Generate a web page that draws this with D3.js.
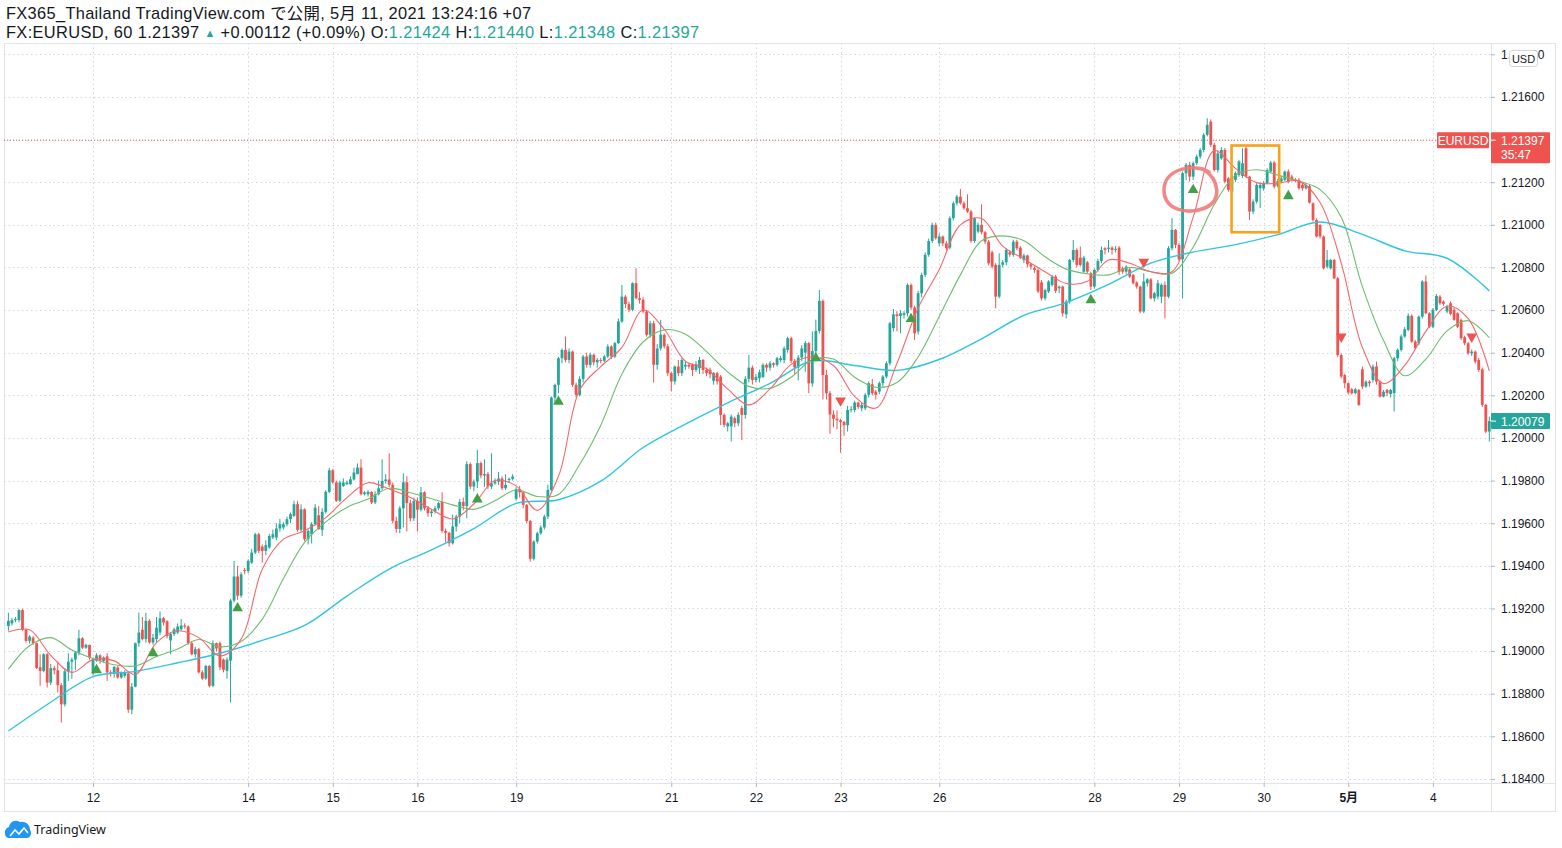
<!DOCTYPE html>
<html><head><meta charset="utf-8">
<script src="https://cdn.jsdelivr.net/npm/d3@7"></script>
<style>body{margin:0;background:#fff;}svg{display:block;font-family:"Liberation Sans",Arial,sans-serif;}</style>
</head><body><svg id="c" width="1562" height="848"></svg>
<script>
// ---- data: EURUSD 60-minute candles ----
const open=[1.19118,1.19130,1.19145,1.19145,1.19192,1.19100,1.19048,1.19063,1.19037,1.18924,
1.18907,1.18985,1.18852,1.18920,1.18910,1.18840,1.18750,1.18905,1.18950,1.18960,
1.18993,1.19060,1.19016,1.19029,1.18895,1.18955,1.18980,1.18954,1.18975,1.18900,
1.18893,1.18923,1.18876,1.18884,1.18895,1.18725,1.18833,1.19037,1.19100,1.19056,
1.19142,1.19040,1.19056,1.19087,1.19154,1.19140,1.19050,1.19080,1.19087,1.19102,
1.19120,1.19115,1.19037,1.18985,1.19009,1.18900,1.18871,1.18930,1.18837,1.19037,
1.19037,1.18960,1.18907,1.18955,1.19237,1.19350,1.19260,1.19380,1.19376,1.19415,
1.19462,1.19548,1.19490,1.19470,1.19486,1.19533,1.19533,1.19575,1.19580,1.19595,
1.19619,1.19634,1.19689,1.19569,1.19665,1.19525,1.19548,1.19595,1.19637,1.19569,
1.19653,1.19747,1.19848,1.19791,1.19705,1.19775,1.19783,1.19783,1.19805,1.19830,
1.19861,1.19736,1.19736,1.19747,1.19697,
1.19736,1.19764,1.19798,1.19805,1.19780,
1.19611,1.19573,1.19670,1.19792,1.19694,1.19623,1.19705,1.19663,1.19745,1.19670,
1.19647,1.19655,1.19670,1.19700,1.19564,1.19555,1.19506,1.19584,1.19631,1.19700,
1.19680,1.19877,1.19772,1.19795,1.19882,1.19824,1.19831,1.19772,1.19787,1.19795,
1.19810,1.19764,1.19803,1.19808,1.19714,1.19760,1.19745,1.19686,1.19610,1.19433,
1.19514,1.19553,1.19580,1.19631,1.19756,1.20189,1.20249,1.20374,1.20413,1.20366,
1.20405,1.20249,1.20202,1.20277,1.20382,1.20343,1.20390,1.20355,1.20366,1.20362,
1.20382,1.20429,1.20382,1.20445,1.20546,1.20663,1.20628,1.20601,1.20726,1.20656,
1.20648,1.20593,1.20484,1.20538,1.20343,1.20420,1.20484,1.20430,1.20304,1.20265,
1.20335,1.20304,1.20335,1.20343,1.20343,1.20319,1.20327,1.20366,1.20319,1.20320,
1.20268,1.20304,1.20288,1.20108,1.20054,1.20054,1.20093,1.20069,
1.20140,1.20108,
1.20277,1.20330,1.20272,1.20280,1.20286,1.20343,1.20330,1.20350,1.20343,1.20365,
1.20365,1.20413,1.20468,1.20362,1.20330,1.20377,1.20400,1.20445,1.20256,1.20408,
1.20502,1.20643,1.20295,1.20210,1.20110,1.20090,1.20083,1.20075,1.20060,1.20131,
1.20131,1.20166,1.20139,1.20139,1.20202,1.20252,1.20217,1.20217,1.20257,1.20288,
1.20350,1.20515,1.20580,1.20572,1.20577,1.20585,1.20718,1.20612,1.20499,1.20679,
1.20765,1.20859,1.20924,1.21000,1.20913,1.20945,1.20913,1.20893,1.21031,1.21101,
1.21132,1.21101,1.21078,1.21062,1.20924,1.20968,1.21000,1.20965,1.20921,1.20871,
1.20812,1.20663,1.20812,1.20824,1.20871,1.20859,1.20921,1.20893,1.20835,1.20856,
1.20815,1.20796,1.20788,1.20730,1.20655,1.20687,1.20718,1.20757,1.20702,1.20710,
1.20580,1.20640,1.20835,1.20882,1.20846,1.20780,1.20824,1.20773,1.20710,1.20788,
1.20830,1.20890,1.20887,1.20893,1.20882,1.20893,
1.20796,1.20780,1.20791,1.20765,
1.20729,1.20710,1.20593,1.20726,1.20744,1.20655,1.20663,1.20663,1.20718,1.20663,
1.20890,1.20976,1.20906,1.20838,1.21242,1.21281,1.21226,1.21289,1.21320,1.21351,
1.21422,1.21484,1.21375,1.21257,1.21312,1.21351,1.21218,1.21156,1.21211,1.21234,
1.21229,1.21359,1.21226,1.21062,1.21109,1.21171,1.21171,1.21195,1.21250,1.21292,
1.21182,1.21203,1.21211,1.21250,1.21226,1.21211,1.21211,1.21187,1.21171,1.21182,
1.21101,1.21023,1.20999,1.20945,1.20804,1.20796,1.20835,1.20749,1.20389,1.20295,
1.20257,1.20228,1.20210,1.20225,1.20322,1.20241,1.20264,1.20272,1.20335,1.20264,
1.20194,1.20225,1.20206,1.20210,1.20374,1.20413,1.20476,1.20507,1.20573,1.20452,
1.20444,1.20569,1.20734,1.20585,1.20522,1.20601,1.20663,1.20640,1.20593,1.20632,
1.20601,1.20585,1.20554,1.20472,1.20444,1.20397,1.20405,1.20366,1.20322,1.20155,
1.20030];
const high=[1.19180,1.19155,1.19160,1.19196,1.19198,1.19105,1.19075,1.19070,1.19040,1.18985,
1.18990,1.18990,1.18940,1.18930,1.18950,1.18850,1.18920,1.18990,1.18970,1.19000,
1.19100,1.19065,1.19035,1.19030,1.18970,1.18990,1.18985,1.18975,1.18990,1.18910,
1.18930,1.18930,1.18905,1.18910,1.18900,1.18850,1.19040,1.19180,1.19160,1.19180,
1.19150,1.19080,1.19160,1.19185,1.19160,1.19145,1.19090,1.19110,1.19130,1.19150,
1.19130,1.19120,1.19045,1.19020,1.19015,1.18910,1.18935,1.18935,1.19050,1.19040,
1.19045,1.18965,1.18970,1.19245,1.19423,1.19400,1.19370,1.19390,1.19430,1.19480,
1.19555,1.19555,1.19500,1.19520,1.19550,1.19570,1.19600,1.19620,1.19605,1.19630,
1.19650,1.19705,1.19705,1.19688,1.19670,1.19570,1.19605,1.19690,1.19680,1.19670,
1.19755,1.19860,1.19855,1.19800,1.19800,1.19810,1.19800,1.19820,1.19860,1.19880,
1.19900,1.19750,1.19755,1.19750,1.19750,
1.19800,1.19900,1.19830,1.19928,1.19790,
1.19630,1.19680,1.19834,1.19820,1.19710,1.19720,1.19720,1.19770,1.19750,1.19680,
1.19665,1.19680,1.19700,1.19745,1.19575,1.19560,1.19640,1.19640,1.19714,1.19720,
1.19890,1.19885,1.19805,1.19944,1.19890,1.19900,1.19840,1.19928,1.19810,1.19840,
1.19820,1.19830,1.19815,1.19830,1.19770,1.19775,1.19750,1.19690,1.19615,1.19520,
1.19560,1.19590,1.19640,1.19780,1.20195,1.20255,1.20380,1.20420,1.20476,1.20420,
1.20410,1.20260,1.20290,1.20390,1.20400,1.20400,1.20395,1.20375,1.20375,1.20390,
1.20440,1.20435,1.20450,1.20560,1.20718,1.20670,1.20640,1.20730,1.20796,1.20684,
1.20660,1.20600,1.20550,1.20550,1.20440,1.20554,1.20490,1.20440,1.20310,1.20340,
1.20366,1.20375,1.20360,1.20350,1.20350,1.20360,1.20380,1.20370,1.20330,1.20330,
1.20310,1.20310,1.20295,1.20115,1.20075,1.20110,1.20100,1.20120,
1.20150,1.20290,
1.20390,1.20340,1.20300,1.20320,1.20350,1.20350,1.20360,1.20355,1.20380,1.20385,
1.20430,1.20475,1.20475,1.20370,1.20390,1.20435,1.20455,1.20450,1.20500,1.20555,
1.20694,1.20650,1.20320,1.20220,1.20130,1.20130,1.20090,1.20080,1.20150,1.20150,
1.20175,1.20170,1.20165,1.20210,1.20265,1.20277,1.20225,1.20265,1.20295,1.20360,
1.20545,1.20605,1.20595,1.20600,1.20595,1.20725,1.20725,1.20620,1.20690,1.20775,
1.20870,1.20935,1.21010,1.21010,1.20960,1.20950,1.20925,1.21040,1.21110,1.21140,
1.21168,1.21110,1.21143,1.21070,1.21035,1.21010,1.21096,1.20970,1.20930,1.20880,
1.20820,1.20866,1.20835,1.20890,1.20880,1.20930,1.20930,1.20900,1.20865,1.20860,
1.20820,1.20805,1.20795,1.20740,1.20700,1.20740,1.20765,1.20765,1.20715,1.20715,
1.20650,1.20840,1.20929,1.20890,1.20898,1.20855,1.20830,1.20780,1.20795,1.20840,
1.20898,1.20895,1.20929,1.20900,1.20900,1.20900,
1.20804,1.20810,1.20800,1.20770,
1.20735,1.20715,1.20773,1.20750,1.20750,1.20685,1.20741,1.20725,1.20734,1.20900,
1.21031,1.20980,1.20915,1.21250,1.21290,1.21295,1.21297,1.21330,1.21360,1.21430,
1.21500,1.21495,1.21385,1.21350,1.21365,1.21360,1.21225,1.21235,1.21250,1.21305,
1.21359,1.21365,1.21230,1.21120,1.21195,1.21195,1.21205,1.21265,1.21300,1.21300,
1.21215,1.21230,1.21255,1.21260,1.21235,1.21220,1.21220,1.21195,1.21195,1.21190,
1.21105,1.21030,1.21005,1.20950,1.20882,1.20840,1.20840,1.20755,1.20395,1.20300,
1.20260,1.20235,1.20235,1.20230,1.20335,1.20270,1.20270,1.20345,1.20358,1.20270,
1.20225,1.20230,1.20230,1.20380,1.20420,1.20485,1.20520,1.20585,1.20580,1.20460,
1.20575,1.20740,1.20762,1.20590,1.20610,1.20675,1.20670,1.20645,1.20625,1.20640,
1.20610,1.20590,1.20560,1.20480,1.20450,1.20415,1.20410,1.20375,1.20330,1.20160,
1.20100];
const low=[1.19095,1.19120,1.19135,1.19135,1.19095,1.19040,1.19035,1.19030,1.18915,1.18837,
1.18900,1.18829,1.18840,1.18890,1.18805,1.18665,1.18740,1.18860,1.18870,1.18910,
1.18980,1.19010,1.19010,1.18960,1.18885,1.18950,1.18940,1.18945,1.18860,1.18880,
1.18875,1.18870,1.18870,1.18875,1.18710,1.18704,1.18830,1.19020,1.19050,1.19040,
1.19035,1.19030,1.19040,1.19075,1.19120,1.19060,1.18985,1.19070,1.19080,1.19095,
1.19105,1.19030,1.18980,1.18970,1.18895,1.18865,1.18865,1.18830,1.18830,1.19000,
1.18910,1.18900,1.18870,1.18758,1.19228,1.19240,1.19250,1.19360,1.19365,1.19410,
1.19455,1.19460,1.19415,1.19450,1.19480,1.19525,1.19520,1.19560,1.19570,1.19585,
1.19600,1.19630,1.19560,1.19560,1.19515,1.19500,1.19505,1.19590,1.19570,1.19540,
1.19645,1.19740,1.19785,1.19700,1.19700,1.19770,1.19780,1.19780,1.19800,1.19830,
1.19730,1.19730,1.19725,1.19690,1.19690,
1.19730,1.19755,1.19785,1.19770,1.19600,
1.19555,1.19553,1.19580,1.19561,1.19608,1.19610,1.19561,1.19655,1.19660,1.19630,
1.19630,1.19645,1.19660,1.19555,1.19510,1.19490,1.19500,1.19560,1.19600,1.19660,
1.19623,1.19760,1.19750,1.19765,1.19810,1.19770,1.19760,1.19760,1.19780,1.19780,
1.19755,1.19755,1.19790,1.19800,1.19705,1.19720,1.19670,1.19600,1.19420,1.19425,
1.19505,1.19545,1.19570,1.19620,1.19750,1.20160,1.20210,1.20350,1.20355,1.20350,
1.20240,1.20190,1.20195,1.20260,1.20330,1.20330,1.20340,1.20330,1.20350,1.20355,
1.20375,1.20370,1.20375,1.20440,1.20540,1.20610,1.20590,1.20595,1.20650,1.20630,
1.20585,1.20475,1.20470,1.20260,1.20320,1.20410,1.20420,1.20290,1.20218,1.20250,
1.20290,1.20290,1.20320,1.20325,1.20290,1.20310,1.20300,1.20300,1.20290,1.20280,
1.20250,1.20250,1.20060,1.20050,1.20030,1.19983,1.20050,1.20055,
1.19990,1.20090,
1.20260,1.20250,1.20260,1.20260,1.20280,1.20310,1.20315,1.20330,1.20335,1.20355,
1.20350,1.20400,1.20350,1.20300,1.20270,1.20360,1.20310,1.20210,1.20240,1.20390,
1.20490,1.20180,1.20180,1.20020,1.20050,1.20040,1.19931,1.20010,1.20030,1.20120,
1.20120,1.20135,1.20125,1.20130,1.20190,1.20200,1.20180,1.20205,1.20240,1.20280,
1.20340,1.20500,1.20500,1.20491,1.20560,1.20570,1.20600,1.20460,1.20485,1.20660,
1.20755,1.20850,1.20915,1.20930,1.20900,1.20900,1.20880,1.20885,1.21020,1.21090,
1.21095,1.21070,1.21055,1.20915,1.20915,1.20960,1.20955,1.20910,1.20810,1.20795,
1.20608,1.20655,1.20800,1.20810,1.20850,1.20850,1.20880,1.20840,1.20820,1.20800,
1.20790,1.20775,1.20680,1.20645,1.20645,1.20680,1.20710,1.20680,1.20680,1.20569,
1.20561,1.20630,1.20825,1.20800,1.20805,1.20775,1.20770,1.20694,1.20700,1.20780,
1.20820,1.20860,1.20870,1.20860,1.20870,1.20765,
1.20770,1.20770,1.20750,1.20720,
1.20700,1.20585,1.20585,1.20710,1.20650,1.20640,1.20650,1.20632,1.20561,1.20655,
1.20880,1.20890,1.20830,1.20655,1.21210,1.21203,1.21210,1.21280,1.21310,1.21340,
1.21415,1.21365,1.21250,1.21245,1.21305,1.21195,1.21155,1.21150,1.21200,1.21225,
1.21220,1.21220,1.21023,1.21050,1.21100,1.21078,1.21160,1.21190,1.21245,1.21170,
1.21175,1.21195,1.21205,1.21195,1.21205,1.21200,1.21165,1.21160,1.21165,1.21100,
1.21015,1.20940,1.20935,1.20790,1.20795,1.20790,1.20745,1.20380,1.20280,1.20233,
1.20205,1.20203,1.20205,1.20150,1.20230,1.20235,1.20240,1.20260,1.20250,1.20190,
1.20190,1.20195,1.20190,1.20124,1.20360,1.20405,1.20470,1.20500,1.20445,1.20415,
1.20435,1.20560,1.20580,1.20515,1.20515,1.20595,1.20625,1.20620,1.20585,1.20575,
1.20550,1.20515,1.20460,1.20435,1.20390,1.20385,1.20350,1.20310,1.20145,1.20022,
1.19983];
const close=[1.19142,1.19145,1.19150,1.19192,1.19100,1.19048,1.19068,1.19037,1.18921,1.18907,
1.18985,1.18852,1.18920,1.18910,1.18840,1.18750,1.18905,1.18950,1.18960,1.18993,
1.19060,1.19016,1.19029,1.18970,1.18960,1.18980,1.18955,1.18970,1.18900,1.18895,
1.18926,1.18876,1.18898,1.18899,1.18725,1.18833,1.19037,1.19087,1.19056,1.19142,
1.19040,1.19063,1.19110,1.19154,1.19134,1.19070,1.19080,1.19102,1.19115,1.19120,
1.19115,1.19037,1.18985,1.19009,1.18900,1.18871,1.18930,1.18837,1.19037,1.19012,
1.18924,1.18912,1.18960,1.19237,1.19350,1.19260,1.19360,1.19376,1.19423,1.19462,
1.19548,1.19470,1.19470,1.19497,1.19540,1.19548,1.19575,1.19595,1.19595,1.19619,
1.19642,1.19689,1.19569,1.19665,1.19525,1.19564,1.19595,1.19673,1.19572,1.19653,
1.19747,1.19848,1.19791,1.19705,1.19791,1.19791,1.19791,1.19806,1.19838,1.19861,
1.19736,1.19744,1.19747,1.19697,1.19736,
1.19764,1.19798,1.19805,1.19780,1.19611,
1.19573,1.19670,1.19792,1.19694,1.19623,1.19705,1.19663,1.19745,1.19670,1.19647,
1.19655,1.19670,1.19694,1.19564,1.19555,1.19506,1.19584,1.19631,1.19700,1.19680,
1.19877,1.19772,1.19795,1.19882,1.19824,1.19831,1.19772,1.19787,1.19795,1.19810,
1.19764,1.19780,1.19808,1.19819,1.19760,1.19745,1.19686,1.19610,1.19433,1.19514,
1.19553,1.19580,1.19631,1.19756,1.20189,1.20249,1.20374,1.20413,1.20366,1.20405,
1.20249,1.20202,1.20277,1.20382,1.20343,1.20390,1.20355,1.20366,1.20362,1.20382,
1.20429,1.20382,1.20445,1.20546,1.20663,1.20628,1.20601,1.20726,1.20656,1.20648,
1.20593,1.20484,1.20538,1.20343,1.20420,1.20484,1.20430,1.20304,1.20265,1.20335,
1.20304,1.20366,1.20343,1.20335,1.20319,1.20346,1.20366,1.20319,1.20304,1.20299,
1.20304,1.20265,1.20108,1.20061,1.20069,1.20100,1.20069,1.20108,
1.20108,1.20277,
1.20330,1.20272,1.20286,1.20308,1.20343,1.20330,1.20350,1.20343,1.20374,1.20374,
1.20420,1.20468,1.20362,1.20330,1.20377,1.20420,1.20445,1.20256,1.20408,1.20502,
1.20643,1.20295,1.20210,1.20110,1.20090,1.20083,1.20075,1.20060,1.20131,1.20135,
1.20166,1.20145,1.20155,1.20202,1.20257,1.20210,1.20202,1.20257,1.20288,1.20350,
1.20538,1.20580,1.20572,1.20585,1.20585,1.20718,1.20612,1.20491,1.20679,1.20765,
1.20859,1.20924,1.21000,1.20937,1.20945,1.20913,1.20890,1.21031,1.21101,1.21132,
1.21101,1.21078,1.21062,1.20924,1.21031,1.21000,1.20965,1.20921,1.20819,1.20804,
1.20663,1.20812,1.20824,1.20882,1.20860,1.20921,1.20890,1.20846,1.20856,1.20815,
1.20804,1.20788,1.20687,1.20655,1.20694,1.20734,1.20757,1.20690,1.20710,1.20585,
1.20640,1.20835,1.20882,1.20812,1.20812,1.20846,1.20780,1.20710,1.20788,1.20830,
1.20882,1.20882,1.20893,1.20882,1.20887,1.20780,
1.20780,1.20804,1.20757,1.20726,
1.20710,1.20593,1.20734,1.20744,1.20655,1.20679,1.20726,1.20718,1.20663,1.20890,
1.20976,1.20906,1.20838,1.21242,1.21281,1.21226,1.21289,1.21320,1.21351,1.21422,
1.21469,1.21375,1.21257,1.21335,1.21351,1.21203,1.21164,1.21226,1.21242,1.21297,
1.21289,1.21226,1.21062,1.21109,1.21187,1.21187,1.21195,1.21257,1.21292,1.21179,
1.21205,1.21218,1.21250,1.21203,1.21211,1.21208,1.21171,1.21171,1.21187,1.21104,
1.21023,1.20945,1.20945,1.20796,1.20835,1.20835,1.20749,1.20389,1.20288,1.20257,
1.20213,1.20210,1.20228,1.20155,1.20241,1.20264,1.20257,1.20335,1.20264,1.20194,
1.20217,1.20210,1.20225,1.20374,1.20413,1.20476,1.20510,1.20573,1.20452,1.20421,
1.20569,1.20734,1.20585,1.20522,1.20601,1.20666,1.20632,1.20629,1.20616,1.20582,
1.20554,1.20522,1.20468,1.20444,1.20397,1.20405,1.20358,1.20319,1.20155,1.20030,
1.20079];
// moving averages, sampled every 6 bars (fast, mid) and every 12 bars (slow)
const maFast=[1.19090,1.19100,1.18980,1.18900,1.18960,1.18954,1.18890,1.19040,1.19095,1.19063,
1.18977,1.19056,1.19384,1.19525,1.19564,1.19626,1.19720,1.19790,1.19760,1.19720,
1.19665,1.19620,1.19690,1.19800,1.19775,1.19660,1.19820,1.20225,1.20335,1.20425,
1.20600,1.20510,1.20360,1.20325,1.20230,1.20155,1.20230,1.20345,1.20380,1.20340,
1.20195,1.20140,1.20350,1.20610,1.20790,1.21000,1.21030,1.20900,1.20840,1.20780,
1.20725,1.20735,1.20835,1.20820,1.20780,1.20780,1.21035,1.21348,1.21265,1.21198,
1.21195,1.21205,1.21105,1.20820,1.20425,1.20255,1.20340,1.20500,1.20618,1.20560,
1.20315];
const maMid=[1.18915,1.19025,1.19063,1.19005,1.18965,1.18936,1.18930,1.18974,1.19010,1.19054,
1.19020,1.19045,1.19150,1.19340,1.19510,1.19606,1.19674,1.19713,1.19764,1.19743,
1.19715,1.19686,1.19665,1.19705,1.19757,1.19725,1.19735,1.19875,1.20060,1.20300,
1.20450,1.20507,1.20487,1.20405,1.20310,1.20242,1.20233,1.20285,1.20367,1.20370,
1.20285,1.20238,1.20260,1.20380,1.20570,1.20765,1.20925,1.20948,1.20925,1.20850,
1.20792,1.20770,1.20765,1.20800,1.20780,1.20773,1.20895,1.21095,1.21232,1.21258,
1.21233,1.21205,1.21165,1.21035,1.20710,1.20457,1.20292,1.20370,1.20502,1.20550,
1.20470];
const maSlow=[1.18625,1.18760,1.18880,1.18905,1.18945,1.18990,1.19050,1.19120,1.19258,1.19385,
1.19475,1.19575,1.19693,1.19710,1.19797,1.19955,1.20065,1.20165,1.20256,1.20362,
1.20340,1.20317,1.20368,1.20465,1.20575,1.20635,1.20720,1.20820,1.20872,1.20907,
1.20954,1.21013,1.20955,1.20878,1.20843,1.20690];
const maFastStep=6, maMidStep=6, maSlowStep=12;
// signal markers
const signalIndex=[25,41,65,133,156,229,236,256,307,322,336,363,378,415];
const signalPrice=[1.18911,1.18990,1.19201,1.19712,1.20170,1.20374,1.20175,1.20558,1.20647,1.20826,1.21164,1.21135,1.20475,1.20475];
const signalDir=["up","up","up","up","up","up","down","up","up","down","up","up","down","down"];
// axes
const timeTickIndex=[24,68,92,116,144,188,212,236,264,308,332,356,380,404];
const timeTickLabels=["12","14","15","16","19","21","22","23","26","28","29","30","5月","4"];
const priceTicks=[1.184,1.186,1.188,1.190,1.192,1.194,1.196,1.198,1.200,1.202,1.204,1.206,1.208,1.210,1.212,1.214,1.216,1.218];
const lastPrice=1.21397, currentClose=1.20079;

// ---- drawing ----
const svg=d3.select("#c");
const L=4,R=1491,T=43,B=783,FR=1555,FB=811;
const x=d3.scaleLinear().domain([0,420]).range([8.4,8.4+420*3.526]);
const y=d3.scaleLinear().domain([1.18381,1.21853]).range([B,T]);
const UP="#26a69a",DN="#ef5350";

svg.append("defs").append("clipPath").attr("id","plot").append("rect").attr("x",L).attr("y",T).attr("width",R-L).attr("height",B-T);
svg.select("defs").append("clipPath").attr("id","paxis").append("rect").attr("x",R).attr("y",T).attr("width",FR-R).attr("height",B-T);

// header
const HF="'Liberation Sans','Noto Sans CJK JP',sans-serif";
svg.append("text").attr("x",6).attr("y",19).attr("font-family",HF).attr("font-size",16.4).attr("fill","#131722")
 .attr("textLength",525).attr("lengthAdjust","spacing")
 .text("FX365_Thailand TradingView.com で公開, 5月 11, 2021 13:24:16 +07");
const h2=svg.append("text").attr("x",6).attr("y",38).attr("font-family",HF).attr("font-size",16.4).attr("fill","#131722")
 .attr("textLength",693).attr("lengthAdjust","spacing");
h2.append("tspan").text("FX:EURUSD, 60 1.21397 ");
h2.append("tspan").attr("fill",UP).attr("font-size",11).attr("dy",-1).text("▲");
h2.append("tspan").attr("dy",1).text(" +0.00112 (+0.09%) O:");
h2.append("tspan").attr("fill",UP).text("1.21424");
h2.append("tspan").text(" H:");
h2.append("tspan").attr("fill",UP).text("1.21440");
h2.append("tspan").text(" L:");
h2.append("tspan").attr("fill",UP).text("1.21348");
h2.append("tspan").text(" C:");
h2.append("tspan").attr("fill",UP).text("1.21397");

// frame
svg.append("rect").attr("x",L+0.5).attr("y",T+0.5).attr("width",FR-L).attr("height",FB-T).attr("fill","none").attr("stroke","#e0e3eb");
svg.append("line").attr("x1",R+0.5).attr("x2",R+0.5).attr("y1",T).attr("y2",FB).attr("stroke","#e0e3eb");
svg.append("line").attr("x1",L).attr("x2",FR).attr("y1",B+0.5).attr("y2",B+0.5).attr("stroke","#e0e3eb");

const plot=svg.append("g").attr("clip-path","url(#plot)");
// grid
plot.selectAll(".hg").data(priceTicks).join("line").attr("x1",L).attr("x2",R).attr("y1",d=>Math.round(y(d))+0.5).attr("y2",d=>Math.round(y(d))+0.5)
 .attr("stroke","#d4d7de").attr("stroke-dasharray","1.5,3");
plot.selectAll(".vg").data(timeTickIndex).join("line").attr("y1",T).attr("y2",B).attr("x1",d=>Math.round(x(d))+0.5).attr("x2",d=>Math.round(x(d))+0.5)
 .attr("stroke","#d4d7de").attr("stroke-dasharray","1.5,3");

// last price dotted line
plot.append("line").attr("x1",L).attr("x2",1437).attr("y1",y(lastPrice)).attr("y2",y(lastPrice)).attr("stroke",DN).attr("stroke-dasharray","1,2");

// candles
const idx=d3.range(open.length);
const cg=plot.append("g");
cg.selectAll(".w").data(idx).join("line").attr("x1",i=>x(i)).attr("x2",i=>x(i)).attr("y1",i=>y(high[i])).attr("y2",i=>y(low[i]))
 .attr("stroke",i=>close[i]>=open[i]?UP:DN).attr("stroke-width",1);
cg.selectAll(".b").data(idx).join("rect").attr("x",i=>x(i)-1.4).attr("width",2.8)
 .attr("y",i=>y(Math.max(open[i],close[i]))).attr("height",i=>Math.max(1,Math.abs(y(open[i])-y(close[i]))))
 .attr("fill",i=>close[i]>=open[i]?UP:DN);

// moving averages
function maLine(vals,step,color,w){
  const ln=d3.line().x((d,k)=>x(k*step)).y(d=>y(d)).curve(d3.curveCatmullRom.alpha(0.5));
  plot.append("path").attr("d",ln(vals)).attr("fill","none").attr("stroke",color).attr("stroke-width",w);
}
maLine(maSlow,maSlowStep,"#2ec6df",1.4);
maLine(maMid,maMidStep,"#6dbd6f",1.1);
maLine(maFast,maFastStep,"#f4686d",1.1);

// signals
const sym=d3.symbol().type(d3.symbolTriangle).size(50);
plot.selectAll(".sg").data(signalIndex).join("path").attr("d",sym())
 .attr("transform",(d,k)=>`translate(${x(d)},${y(signalPrice[k])})`+(signalDir[k]==="down"?" rotate(180)":""))
 .attr("fill",(d,k)=>signalDir[k]==="down"?DN:"#43a047");

// annotations
const cx=x(335.4), cy=y(1.21168);
plot.append("path").attr("d",`M${cx+18},${cy-17} C${cx+4},${cy-26} ${cx-27},${cy-21} ${cx-27},${cy+1} C${cx-27},${cy+21} ${cx-4},${cy+26} ${cx+14},${cy+19} C${cx+31},${cy+12} ${cx+29},${cy-9} ${cx+12},${cy-20}`)
 .attr("fill","none").attr("stroke","#f27a7a").attr("stroke-width",3.6).attr("stroke-linecap","round").attr("opacity",0.9);
plot.append("rect").attr("x",x(346.9)).attr("y",y(1.21372)).attr("width",x(360.4)-x(346.9)).attr("height",y(1.20965)-y(1.21372))
 .attr("fill","none").attr("stroke","#f7a21b").attr("stroke-width",2.6);

// price axis
const pa=svg.append("g").attr("clip-path","url(#paxis)").append("g").attr("transform",`translate(${R},0)`)
 .call(d3.axisRight(y).tickValues(priceTicks).tickFormat(d3.format(".5f")).tickSize(4).tickPadding(6));
pa.select(".domain").remove();
pa.selectAll(".tick line").attr("stroke","#b2b5be");
pa.selectAll(".tick text").attr("fill","#131722").attr("font-size",12).attr("font-family","'Liberation Sans',Arial,sans-serif");

// time axis
const ta=svg.append("g").attr("transform",`translate(0,${B})`)
 .call(d3.axisBottom(x).tickValues(timeTickIndex).tickFormat((d,k)=>timeTickLabels[k]).tickSize(4).tickPadding(6));
ta.select(".domain").remove();
ta.selectAll(".tick line").attr("stroke","#b2b5be");
ta.selectAll(".tick text").attr("fill","#131722").attr("font-size",12).attr("font-family","'Liberation Sans','Noto Sans CJK JP',sans-serif")
 .attr("font-weight",(d,k)=>timeTickLabels[k]==="5月"?"bold":"normal");

// USD box (covers part of the top price label, as in the original)
svg.append("rect").attr("x",1509.5).attr("y",50.5).attr("width",28).attr("height",16).attr("rx",3).attr("fill","#fff").attr("stroke","#d1d4dc");
svg.append("text").attr("x",1523.5).attr("y",62.5).attr("text-anchor","middle").attr("font-size",11).attr("fill","#131722").text("USD");

// last price labels
const ly=y(lastPrice);
svg.append("rect").attr("x",1437).attr("y",ly-8).attr("width",52).attr("height",16).attr("rx",1).attr("fill",DN);
svg.append("text").attr("x",1463).attr("y",ly+4.5).attr("text-anchor","middle").attr("font-size",12).attr("fill","#fff").text("EURUSD");
svg.append("rect").attr("x",R).attr("y",ly-8).attr("width",59).attr("height",31).attr("rx",1).attr("fill",DN);
svg.append("line").attr("x1",R).attr("x2",R+5).attr("y1",ly).attr("y2",ly).attr("stroke","#fff");
svg.append("text").attr("x",1501).attr("y",ly+4.5).attr("font-size",12).attr("fill","#fff").text(d3.format(".5f")(lastPrice));
svg.append("text").attr("x",1501).attr("y",ly+19).attr("font-size",12).attr("fill","#fff").text("35:47");
const cy2=y(currentClose);
svg.append("rect").attr("x",R).attr("y",cy2-8).attr("width",59).attr("height",16).attr("rx",1).attr("fill",UP);
svg.append("line").attr("x1",R).attr("x2",R+5).attr("y1",cy2).attr("y2",cy2).attr("stroke","#fff");
svg.append("text").attr("x",1501).attr("y",cy2+4.5).attr("font-size",12).attr("fill","#fff").text(d3.format(".5f")(currentClose));

// TradingView logo
const lg=svg.append("g");
lg.append("path").attr("d","M8,838 A6,6 0 0 1 9,827 A7,7 0 0 1 20,822 A8,8 0 0 1 30,830 A5,5 0 0 1 27,838 Z").attr("fill","#2196f3");
lg.append("path").attr("d","M10,836 L15,830 L19,834 L24,828 L28,833").attr("fill","none").attr("stroke","#fff").attr("stroke-width",1.6);
svg.append("text").attr("x",34).attr("y",834).attr("font-size",12.5).attr("fill","#131722").attr("font-family","'Noto Sans',sans-serif").text("TradingView");
</script></body></html>
